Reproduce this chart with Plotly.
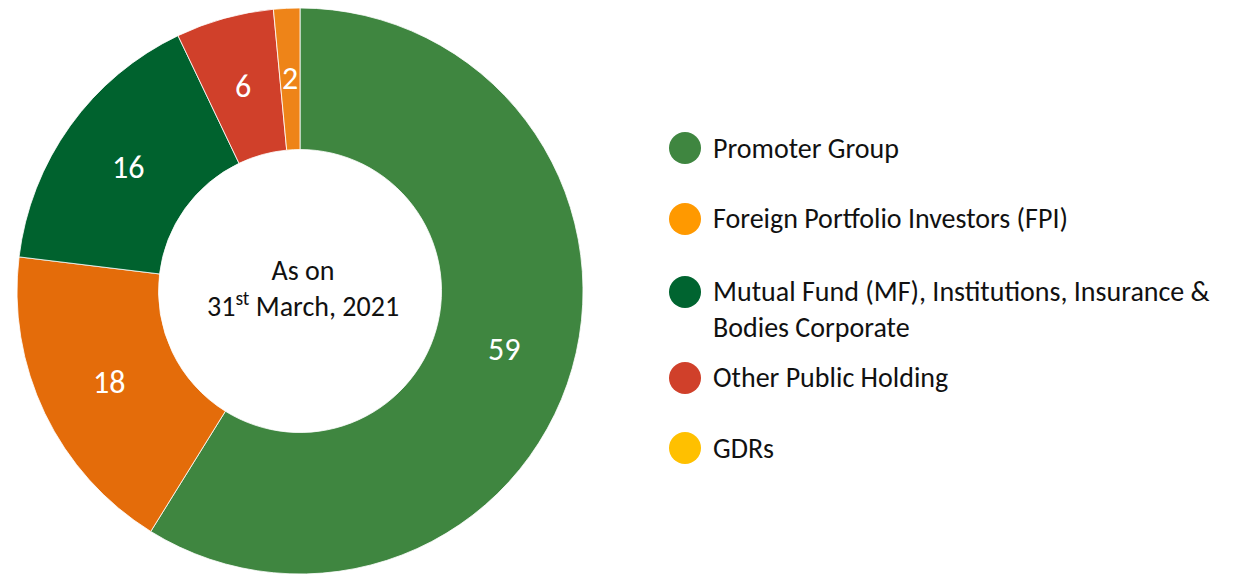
import math
import plotly.graph_objects as go

categories = ["Promoter Group", "Foreign Portfolio Investors (FPI)",
              "Mutual Fund (MF), Institutions, Insurance &<br>Bodies Corporate",
              "Other Public Holding", "GDRs"]
values = [58.9, 18.1, 16.0, 5.6, 1.5]
labels_shown = ["59", "18", "16", "6", "2"]
slice_colors = ["#3F8640", "#E46C0A", "#00622E", "#D0402A", "#EE8418"]
legend_colors = ["#3F8640", "#FF9900", "#006430", "#D0402A", "#FFC000"]

FONT = "Carlito, Lato, 'Open Sans', sans-serif"
W, H = 1240, 575
OFF = 8  # page body margin offset
HOLE = 0.5

# pie geometry in figure pixels (derived from the domain)
dom_x = [9 / W, 575 / W]
dom_y = [1 - 566 / H, 1]
cx = (dom_x[0] + dom_x[1]) / 2 * W
cy = (1 - (dom_y[0] + dom_y[1]) / 2) * H
R = min((dom_x[1] - dom_x[0]) * W, (dom_y[1] - dom_y[0]) * H) / 2

fig = go.Figure()
fig.add_trace(go.Pie(
    values=values,
    labels=categories,
    textinfo="none",
    marker=dict(colors=slice_colors, line=dict(color="white", width=0.8)),
    hole=HOLE,
    sort=False,
    direction="clockwise",
    rotation=0,
    showlegend=False,
    domain=dict(x=dom_x, y=dom_y),
))

annotations = []
# slice labels at mid-angle, mid-ring radius (computed from the values)
total = sum(values)
cum = 0.0
r_mid = R * (1 + HOLE) / 2
for v, t in zip(values, labels_shown):
    a = 2 * math.pi * (cum + v / 2) / total
    cum += v
    x = cx + r_mid * math.sin(a)
    y = cy - r_mid * math.cos(a)
    annotations.append(dict(text=t, xref="paper", yref="paper",
                            x=x / W, y=1 - y / H, xanchor="center",
                            yanchor="middle", showarrow=False,
                            font=dict(family=FONT, size=32, color="white")))

def px(xpage):
    return (xpage - OFF) / W

def py(ypage):
    return 1 - (ypage - OFF) / H

# custom legend with circle markers
leg_y = [148, 219, 292, 378, 448]
shapes = []
for name, col, yc in zip(categories, legend_colors, leg_y):
    shapes.append(dict(type="circle", xref="paper", yref="paper",
                       x0=px(685 - 16), x1=px(685 + 16),
                       y0=py(yc + 16), y1=py(yc - 16),
                       fillcolor=col, line=dict(width=0)))
    two = "<br>" in name
    annotations.append(dict(text=name, xref="paper", yref="paper",
                            x=px(711), y=py(yc - 20) if two else py(yc),
                            xanchor="left",
                            yanchor="top" if two else "middle",
                            align="left", showarrow=False,
                            font=dict(family=FONT, size=28, color="#111111")))

annotations.append(dict(text="As on<br>31<sup>st</sup> March, 2021",
                        xref="paper", yref="paper", x=px(303), y=py(288),
                        xanchor="center", yanchor="middle", showarrow=False,
                        align="center",
                        font=dict(family=FONT, size=28, color="#111111")))

fig.update_layout(
    width=W, height=H,
    margin=dict(l=0, r=0, t=0, b=0),
    paper_bgcolor="white", plot_bgcolor="white",
    shapes=shapes, annotations=annotations,
)

fig.write_html("out.html")
